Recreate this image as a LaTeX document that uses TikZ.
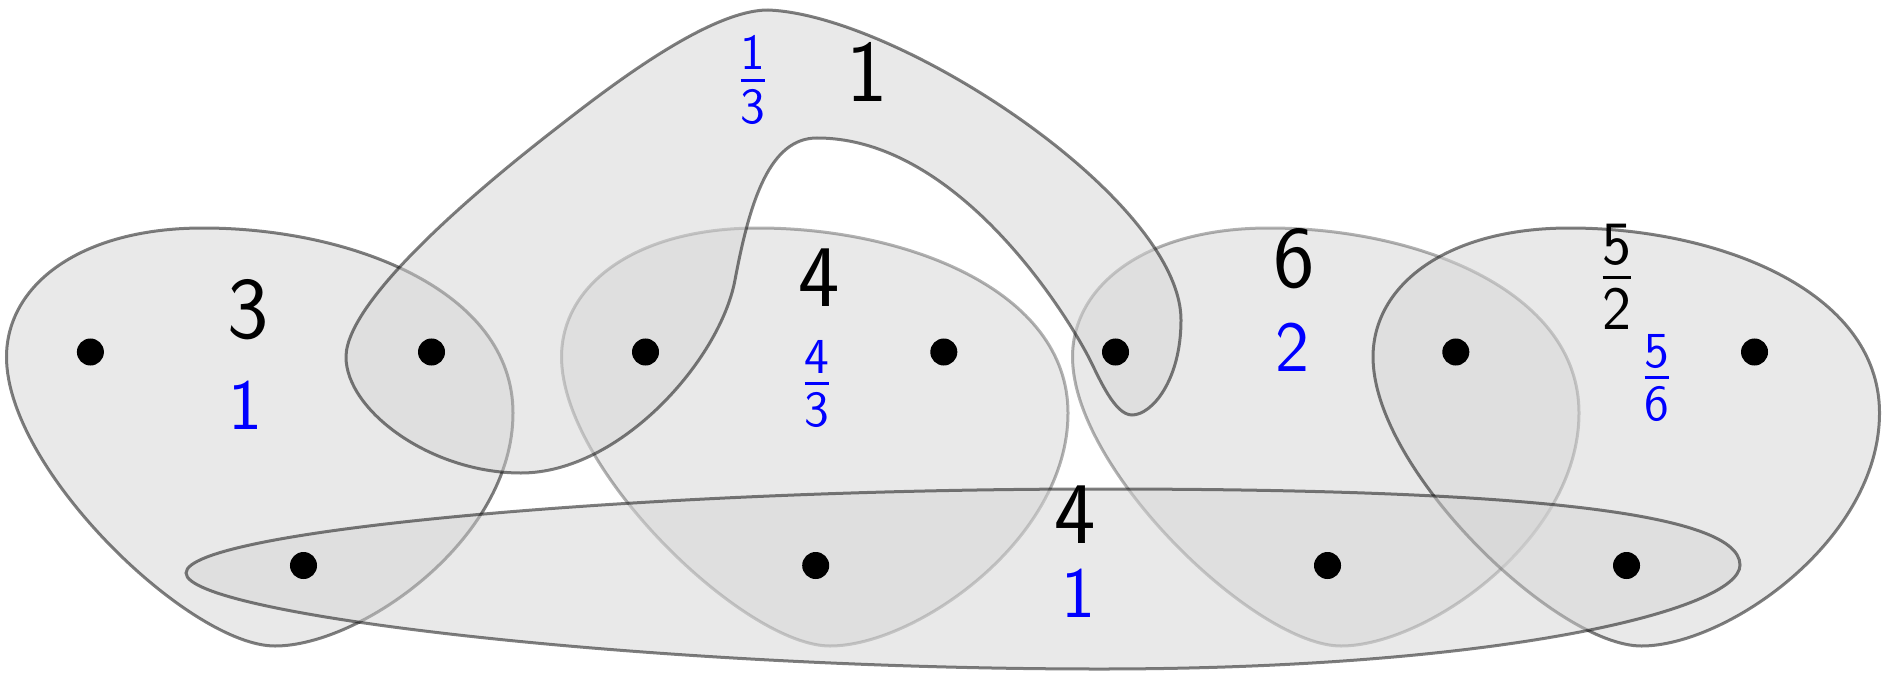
\documentclass[tikz,border=0pt]{standalone}
\usepackage{amsmath}
\tikzset{
  hedge/.style={fill=black!17, fill opacity=0.5, draw=black, draw opacity=0.5, line width=0.03cm},
  lighthedge/.style={hedge, draw opacity=0.3},
  vdot/.style={circle, fill=black, inner sep=0pt, minimum size=0.27cm},
  blab/.style={inner sep=0pt, text=black, font=\fontsize{25}{30}\selectfont\sffamily},
  ulab/.style={inner sep=0pt, text=blue, font=\fontsize{20.5}{25}\selectfont\sffamily}
}
\newcommand\eggshape[2]{%
  \begin{scope}[shift={(#1,0)}]
    \path[#2] (6.5,357) .. controls (6.5,285) and (80,228) .. (203,228)
      .. controls (350,228) and (513,290) .. (513,413)
      .. controls (513,540) and (360,646) .. (275,646)
      .. controls (190,646) and (6.5,470) .. cycle;
  \end{scope}}
\newcommand\sfr[2]{$\frac{\textsf{#1}}{\textsf{#2}}$}
\begin{document}
\begin{tikzpicture}[x=0.01cm, y=-0.01cm]
\useasboundingbox (0,0) rectangle (1889,673);
% hyperedges
\eggshape{555}{lighthedge}
\eggshape{1066}{lighthedge}
\eggshape{0}{hedge}
\eggshape{1366.5}{hedge}
\path[hedge] (768,10) .. controls (900,15) and (1181,200) .. (1181,320)
  .. controls (1181,380) and (1152,415) .. (1132,415)
  .. controls (1115,415) and (1100,380) .. (1090,360)
  .. controls (1070,320) and (960,138) .. (817,138)
  .. controls (770,138) and (750,200) .. (735,280)
  .. controls (720,360) and (620,473) .. (521,473)
  .. controls (430,473) and (346,410) .. (346,357)
  .. controls (346,300) and (479,188) .. (558,127)
  .. controls (613,84) and (710,10) .. cycle;
\path[hedge] (186,573) .. controls (186,530) and (650,489) .. (1100,489)
  .. controls (1500,489) and (1740,510) .. (1740,565)
  .. controls (1740,610) and (1500,669) .. (1100,669)
  .. controls (650,669) and (186,615) .. cycle;
% vertices
\node[vdot] (v1) at (90.4,352) {};
\node[vdot] (v2) at (431.5,352) {};
\node[vdot] (v3) at (645.5,352) {};
\node[vdot] (v4) at (943.8,352) {};
\node[vdot] (v5) at (1115.5,352) {};
\node[vdot] (v6) at (1455.8,352) {};
\node[vdot] (v7) at (1754.5,352) {};
\node[vdot] (w1) at (303.5,565.5) {};
\node[vdot] (w2) at (815.7,565.5) {};
\node[vdot] (w3) at (1327.5,565.5) {};
\node[vdot] (w4) at (1626.5,565.5) {};
% labels
\node[blab] (la) at (248,310) {3};
\node[ulab] (lau) at (245,405) {1};
\node[blab] (lb) at (867,72) {1};
\node[ulab] (lbu) at (753,80) {\sfr{1}{3}};
\node[blab] (lc) at (819,278) {4};
\node[ulab] (lcu) at (817,384) {\sfr{4}{3}};
\node[blab] (ld) at (1294,259) {6};
\node[ulab] (ldu) at (1292,347) {2};
\node[blab] (le) at (1617,277) {\sfr{5}{2}};
\node[ulab] (leu) at (1657,378) {\sfr{5}{6}};
\node[blab] (lf) at (1075,515) {4};
\node[ulab] (lfu) at (1078,593) {1};
\end{tikzpicture}
\end{document}
